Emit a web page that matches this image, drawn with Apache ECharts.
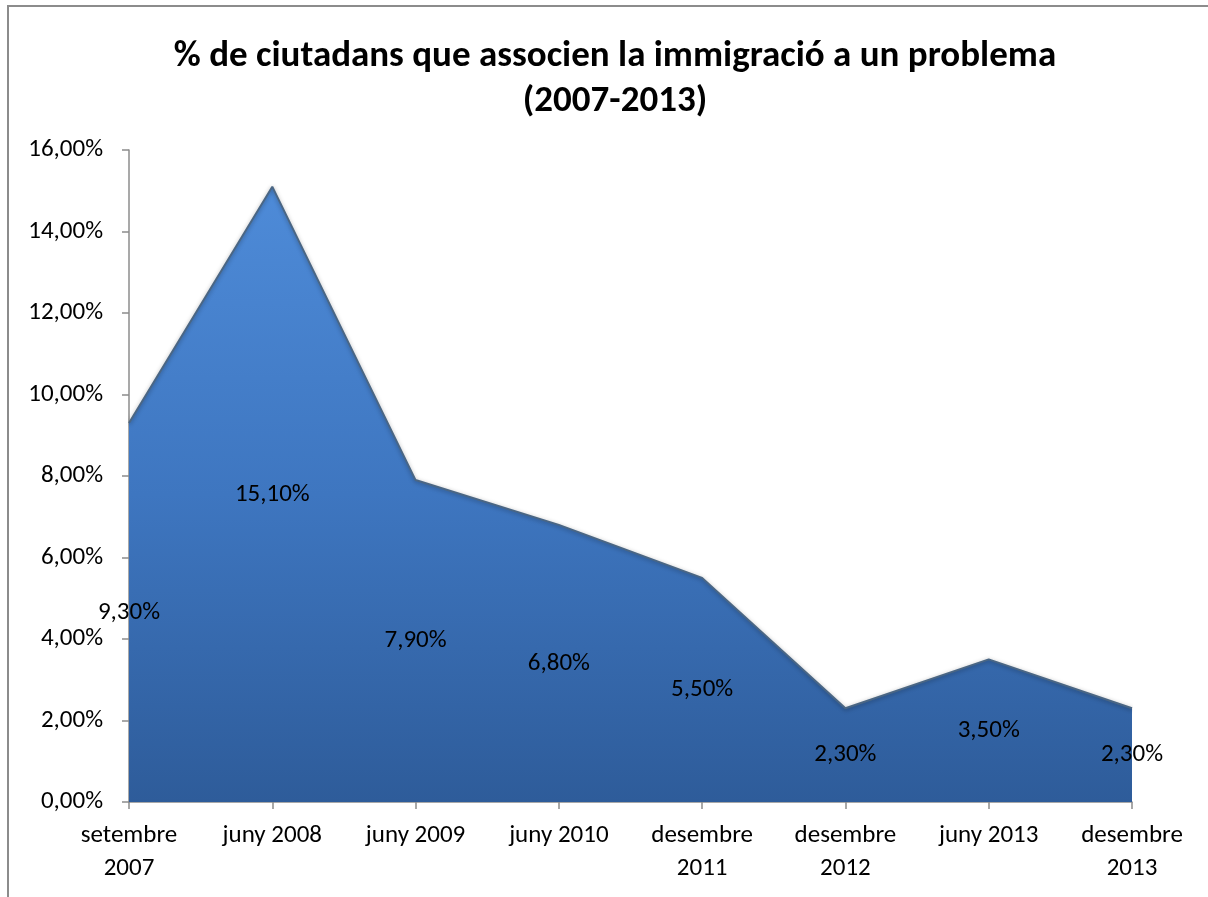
<!DOCTYPE html>
<html><head><meta charset="utf-8">
<script src="https://cdn.jsdelivr.net/npm/echarts@6/dist/echarts.min.js"></script>
<style>
html,body{margin:0;padding:0;background:#fff;}
#frame{position:absolute;left:7px;top:5px;width:1210px;height:900px;border:2px solid #8c8c8c;box-sizing:border-box;}
#c{position:absolute;left:0;top:0;width:1208px;height:897px;}
</style></head>
<body><div id="frame"></div><div id="c"></div>
<script>
const categories = ['setembre\n2007','juny 2008','juny 2009','juny 2010','desembre\n2011','desembre\n2012','juny 2013','desembre\n2013'];
const values = [9.3, 15.1, 7.9, 6.8, 5.5, 2.3, 3.5, 2.3];
const yTicks = [0, 2, 4, 6, 8, 10, 12, 14, 16];
const FONT = 'Carlito, Calibri, Lato, sans-serif';
const fmt = v => v.toFixed(2).replace('.', ',') + '%';
const chart = echarts.init(document.getElementById('c'));
chart.setOption({
  animation:false,
  title:{text:'% de ciutadans que associen la immigració a un problema\n(2007-2013)',left:610,textAlign:'center',top:29,
    textStyle:{fontFamily:FONT,fontSize:37,fontWeight:'bold',color:'#000',lineHeight:45}},
  grid:{left:129,right:76,top:150,bottom:95},
  xAxis:{type:'category',data:categories,boundaryGap:false,
    axisLine:{lineStyle:{color:'#8c8c8c',width:1.5}},
    axisTick:{show:true,alignWithLabel:true,length:7,lineStyle:{color:'#8c8c8c',width:1.5}},
    axisLabel:{fontFamily:FONT,fontSize:25,color:'#000',lineHeight:33,margin:17,interval:0}},
  yAxis:{type:'value',min:yTicks[0],max:yTicks[yTicks.length-1],interval:2,
    axisLine:{show:true,lineStyle:{color:'#8c8c8c',width:1.5}},
    axisTick:{show:true,length:7,lineStyle:{color:'#8c8c8c',width:1.5}},
    splitLine:{show:false},
    axisLabel:{fontFamily:FONT,fontSize:25,color:'#000',margin:26,formatter:v=>fmt(v)}},
  series:[
    {type:'line',data:values,symbol:'none',z:2,
      lineStyle:{color:'#4a6684',width:2,shadowColor:'rgba(0,0,0,0.35)',shadowBlur:4,shadowOffsetY:1},
      areaStyle:{opacity:1,color:new echarts.graphic.LinearGradient(0,0,0,1,[
        {offset:0,color:'#4e8bd8'},{offset:0.5,color:'#3e76c0'},{offset:1,color:'#2e5c9a'}])}},
    {type:'bar',data:values,barWidth:1,z:3,itemStyle:{color:'rgba(0,0,0,0)'},
      label:{show:true,position:'inside',fontFamily:FONT,fontSize:25,color:'#000',formatter:p=>fmt(p.value)}}
  ]
});
</script></body></html>
